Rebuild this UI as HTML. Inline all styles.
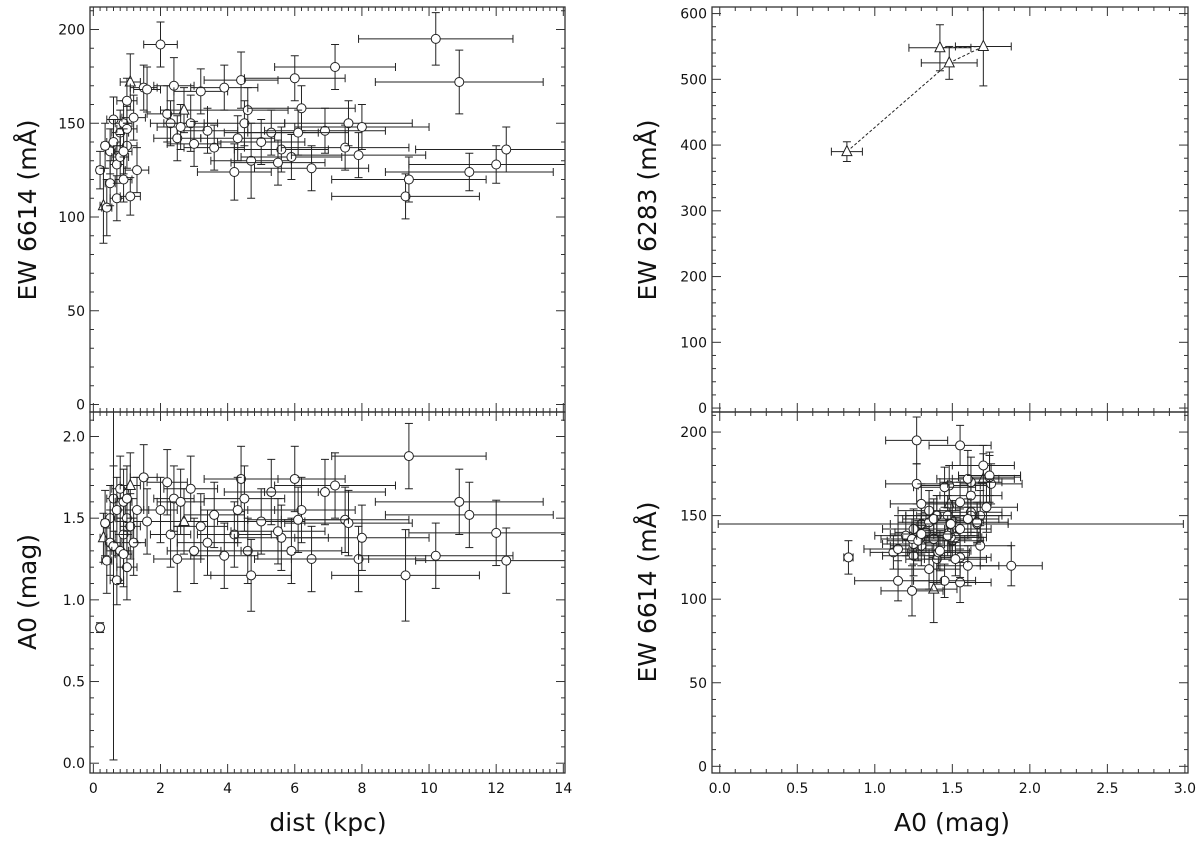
<!DOCTYPE html>
<html><head><meta charset="utf-8"><style>
body{margin:0;background:#fff;}
svg{display:block;font-family:"DejaVu Sans","Liberation Sans",sans-serif;}
</style></head><body>
<svg id="fig" width="1200" height="843" viewBox="0 0 1200 843"></svg>
<script>
// star data (shared by three panels)
const dist   =[0.2,0.3,0.4,0.5,0.5,0.6,0.6,0.7,0.7,0.8,0.8,0.9,0.9,1.0,1.0,1.1,1.1,1.2,1.3,1.5,1.6,2.0,2.2,2.3,2.4,2.5,2.7,2.9,3.2,3.4,3.6,3.9,4.2,4.4,4.5,4.6,4.7,5.0,5.3,5.6,5.9,6.0,6.2,6.5,6.9,7.2,7.5,7.6,7.9,8.0,9.3,9.4,10.2,10.9,11.2,12.0,12.3,0.9,1.0,0.35,4.3,3.0,5.5,6.1,2.6];
const distErr=[0.1,0.1,0.15,0.15,0.15,0.2,0.2,0.2,0.2,0.25,0.25,0.25,0.25,0.3,0.3,0.3,0.3,0.35,0.35,0.4,0.4,0.5,0.6,0.6,0.6,0.7,0.7,0.8,0.8,0.9,0.9,1.0,1.1,1.1,1.2,1.2,1.2,1.3,1.4,1.4,1.5,1.5,1.6,1.7,1.8,1.8,1.9,1.9,2.0,2.0,2.2,2.3,2.3,2.5,2.5,2.6,2.7,0.25,0.3,0.1,1.1,0.8,1.4,1.5,0.7];
const a0     =[0.83,1.38,1.24,1.5,1.35,1.62,1.33,1.12,1.55,1.3,1.68,1.4,1.6,1.2,1.5,1.7,1.45,1.35,1.55,1.75,1.48,1.55,1.72,1.4,1.62,1.25,1.48,1.68,1.45,1.35,1.52,1.27,1.4,1.74,1.62,1.3,1.15,1.48,1.66,1.38,1.3,1.74,1.55,1.25,1.66,1.7,1.49,1.47,1.25,1.38,1.15,1.88,1.27,1.6,1.52,1.41,1.24,1.28,1.62,1.47,1.55,1.3,1.42,1.49,1.6];
const a0Err  =[0.03,0.15,0.2,0.2,0.2,0.2,1.31,0.15,0.2,0.2,0.2,0.2,0.2,0.2,0.2,0.2,0.2,0.2,0.2,0.2,0.2,0.2,0.2,0.2,0.2,0.2,0.2,0.2,0.2,0.2,0.2,0.2,0.2,0.2,0.2,0.2,0.22,0.2,0.2,0.2,0.2,0.2,0.2,0.2,0.2,0.2,0.2,0.2,0.2,0.2,0.28,0.2,0.2,0.2,0.2,0.2,0.2,0.2,0.2,0.2,0.2,0.2,0.2,0.2,0.2];
const ew     =[125,106,105,135,118,152,140,128,110,145,132,150,120,138,147,172,111,153,125,169,168,192,155,150,170,142,157,150,167,146,137,169,124,173,150,157,130,140,145,136,132,174,158,126,146,180,137,150,133,148,111,120,195,172,124,128,136,135,162,138,142,139,129,145,148];
const ewErr  =[10,20,15,12,12,12,12,10,12,12,12,12,12,12,12,15,10,12,12,12,12,12,15,12,15,12,12,15,12,12,12,12,15,15,12,12,20,12,12,12,12,12,12,12,12,12,12,12,12,12,12,12,14,17,10,10,12,12,12,12,12,12,12,12,12];
const marker =['c','t','c','c','c','c','c','c','c','c','c','c','c','c','c','t','c','c','c','c','c','c','c','c','c','c','t','c','c','c','c','c','c','c','c','c','c','c','c','c','c','c','c','c','c','c','c','c','c','c','c','c','c','c','c','c','c','c','c','c','c','c','c','c','c'];
// top-right panel (EW 6283)
const a0T   =[0.82,1.48,1.42,1.7];
const a0TErr=[0.1,0.18,0.2,0.18];
const ew6283=[390,525,548,550];
const ew6283Err=[15,25,35,60];
const lineOrder=[0,1,3,2];

const NS='http://www.w3.org/2000/svg';
const svg=document.getElementById('fig');
function el(tag,attrs,parent){const e=document.createElementNS(NS,tag);for(const k in attrs)e.setAttribute(k,attrs[k]);(parent||svg).appendChild(e);return e;}
const defs=el('defs',{});
let clipN=0;
function panel(name,x0,x1,y0,y1,xmin,xmax,ymin,ymax,xMaj,xMin,yMaj,yMin,showX,xDec,yDec){
  const g=el('g',{});
  
  
  const cid='clip'+(clipN++);
  const cp=el('clipPath',{id:cid},defs);el('rect',{x:x0,y:y0,width:x1-x0,height:y1-y0},cp);
  const sx=v=>x0+(v-xmin)/(xmax-xmin)*(x1-x0);
  const sy=v=>y1-(v-ymin)/(ymax-ymin)*(y1-y0);
  const ax=el('g',{stroke:'#333','stroke-width':1},g);
  const xr=Math.round(xMaj/xMin), yr=Math.round(yMaj/yMin);
  for(let k=Math.ceil(xmin/xMin-1e-9);k*xMin<=xmax+1e-9;k++){
    const v=k*xMin, maj=(k%xr===0), L=maj?9:4, X=sx(v);
    el('line',{x1:X,x2:X,y1:y1,y2:y1-L},ax);el('line',{x1:X,x2:X,y1:y0,y2:y0+L},ax);
    if(maj&&showX){const t=el('text',{x:X,y:y1+20,'font-size':14,'text-anchor':'middle',fill:'#111'},g);t.textContent=v.toFixed(xDec);
      }
  }
  for(let k=Math.ceil(ymin/yMin-1e-9);k*yMin<=ymax+1e-9;k++){
    const v=k*yMin, maj=(k%yr===0), L=maj?9:4, Y=sy(v);
    el('line',{x1:x0,x2:x0+L,y1:Y,y2:Y},ax);el('line',{x1:x1,x2:x1-L,y1:Y,y2:Y},ax);
    if(maj){const t=el('text',{x:x0-5,y:Y+5,'font-size':14,'text-anchor':'end',fill:'#111'},g);t.textContent=v.toFixed(yDec);
      }
  }
  const data=el('g',{'clip-path':`url(#${cid})`},g);
  const frame=el('rect',{x:x0,y:y0,width:x1-x0,height:y1-y0,fill:'none',stroke:'#333','stroke-width':1.3},g);
  
  
  return {g:data,sx,sy};
}
function point(p,x,xe,y,ye,m,name){
  const g=el('g',{stroke:'#222','stroke-width':1,fill:'#fff'},p.g);
  
  
  const X=p.sx(x),Y=p.sy(y),xa=p.sx(x-xe),xb=p.sx(x+xe),ya=p.sy(y-ye),yb=p.sy(y+ye);
  el('line',{x1:xa,x2:xb,y1:Y,y2:Y},g);el('line',{x1:X,x2:X,y1:ya,y2:yb},g);
  el('line',{x1:xa,x2:xa,y1:Y-4,y2:Y+4},g);el('line',{x1:xb,x2:xb,y1:Y-4,y2:Y+4},g);
  el('line',{x1:X-4,x2:X+4,y1:ya,y2:ya},g);el('line',{x1:X-4,x2:X+4,y1:yb,y2:yb},g);
  if(m==='t')el('polygon',{points:`${X},${Y-6} ${X-5},${Y+4} ${X+5},${Y+4}`},g);
  else el('circle',{cx:X,cy:Y,r:4.5},g);
}
const pLT=panel('ew6614-vs-dist-panel',90,565,7,412,-0.1,14.05,-4,212,2,0.2,50,10,false,0,0);
const pLB=panel('a0-vs-dist-panel',90,565,412,773,-0.1,14.05,-0.06,2.15,2,0.2,0.5,0.1,true,0,1);
const pRT=panel('ew6283-vs-a0-panel',712,1188,7,412,-0.05,3.02,-6,610,0.5,0.1,100,20,false,1,0);
const pRB=panel('ew6614-vs-a0-panel',712,1188,412,773,-0.05,3.02,-4,212,0.5,0.1,50,10,true,1,0);
for(let i=0;i<dist.length;i++){
  point(pLT,dist[i],distErr[i],ew[i],ewErr[i],marker[i],'star-ew-dist');
  point(pLB,dist[i],distErr[i],a0[i],a0Err[i],marker[i],'star-a0-dist');
  point(pRB,a0[i],i===63?1.5:(i===6?0.2:a0Err[i]),ew[i],ewErr[i],marker[i],'star-ew-a0');
}
const pts=lineOrder.map(i=>pRT.sx(a0T[i])+','+pRT.sy(ew6283[i])).join(' ');
const pl=el('polyline',{points:pts,fill:'none',stroke:'#222','stroke-dasharray':'3,2'},pRT.g);


for(let i=0;i<a0T.length;i++)point(pRT,a0T[i],a0TErr[i],ew6283[i],ew6283Err[i],'t','star-ew6283');

function label(txt,x,y,rot,name){
  const t=el('text',{x:x,y:y,'font-size':25,'text-anchor':'middle',fill:'#111',transform:rot?`rotate(-90 ${x} ${y})`:''});
  t.textContent=txt;
  
  
}
label('EW 6614 (mÅ)',36,210,true,'y-axis-title-ew6614');
label('A0 (mag)',36,592,true,'y-axis-title-a0');
label('dist (kpc)',328,831,false,'x-axis-title-dist');
label('EW 6283 (mÅ)',656,210,true,'y-axis-title-ew6283');
label('EW 6614 (mÅ)',656,592,true,'y-axis-title-ew6614-right');
label('A0 (mag)',952,831,false,'x-axis-title-a0');
</script>
</body></html>
